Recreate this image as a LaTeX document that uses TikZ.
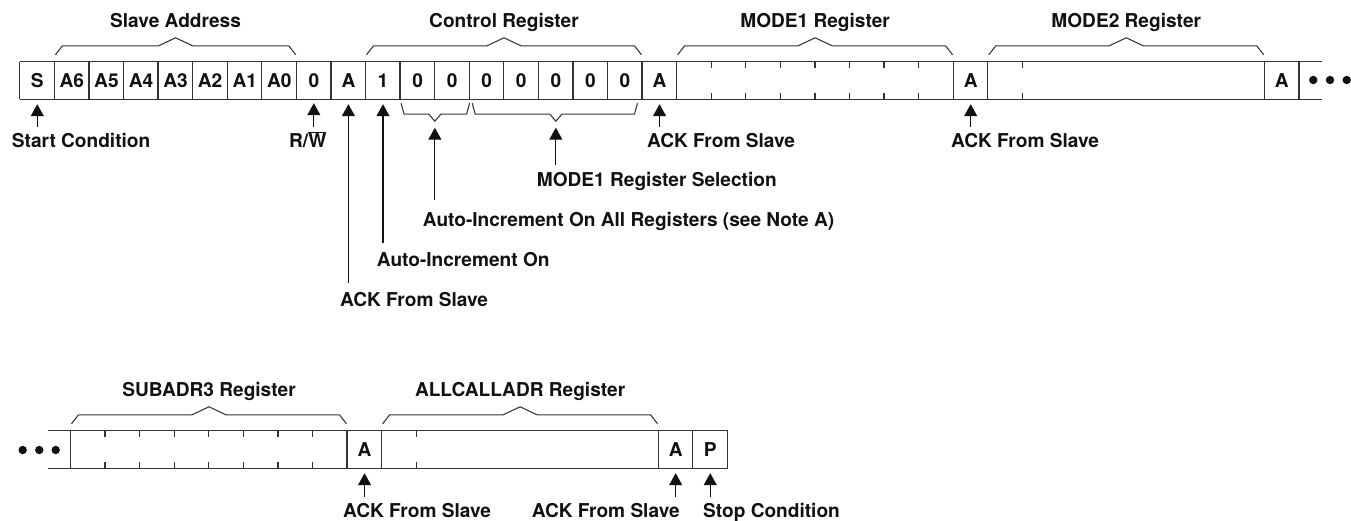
\documentclass[tikz,border=0pt]{standalone}
\usepackage{fontspec}
\setmainfont{TeX Gyre Heros}
\usetikzlibrary{calc,arrows.meta}
\definecolor{frameline}{HTML}{333333}
\definecolor{inkblack}{HTML}{111111}

% brace over / under a run of cells, #3 names the tip
\newcommand{\regbraceup}[3]{%
\draw[brace] let \p1=(#1.north west), \p2=(#2.north east), \p3=($(#1.north west)!.5!(#2.north east)$) in
 (\x1+1pt,\y1+7pt) -- (\x1+8pt,\y1+16pt) -- (\x3-17pt,\y1+16pt) -- (\x3,\y1+24pt) coordinate (#3)
 -- (\x3+17pt,\y1+16pt) -- (\x2-8pt,\y1+16pt) -- (\x2-1pt,\y1+7pt);}
\newcommand{\regbracedown}[5]{%
\draw[brace] let \p1=(#1.south west), \p2=(#2.south east), \p3=($(#1.south west)!.5!(#2.south east)$) in
 (\x1+#4,\y1-4pt) -- (\x1+#4+3pt,\y1-15pt) -- (\x3-6pt,\y1-15pt) -- (\x3,\y1-22pt) coordinate (#3)
 -- (\x3+6pt,\y1-15pt) -- (\x2-#5-3pt,\y1-15pt) -- (\x2-#5,\y1-4pt);}

\begin{document}
\begin{tikzpicture}[x=1pt,y=-1pt,
  every node/.style={font=\fontsize{19.1}{22}\selectfont\bfseries,text=inkblack},
  cell/.style={minimum width=34.57pt,minimum height=37pt,inner sep=0pt},
  frame/.style={draw=frameline,line width=1.25pt},
  brace/.style={draw=frameline,line width=1.05pt,line join=miter},
  title/.style={anchor=base,inner sep=0pt},
  lbl/.style={anchor=base west,inner sep=0pt,text height=13.5pt,text depth=4pt},
  ptr/.style={draw=inkblack,line width=1.1pt,-{Triangle[length=12pt,width=13pt]},shorten >=5pt,shorten <=7pt}]
\useasboundingbox (0,0) rectangle (1351,521);

% first row
\foreach \t [count=\i from 0] in {S,A6,A5,A4,A3,A2,A1,A0,0,A,1,0,0,0,0,0,0,0,A,{},{},{},{},{},{},{},{},A,{},{},{},{},{},{},{},{},A,{}}
  \node[cell] (t\i) at (37.285+34.57*\i,80.5) {\t};
\draw[frame] (t0.north west) -- ++(1301.7,0) (t0.south west) -- ++(1301.7,0);
\foreach \k in {0,...,19,27,28,36,37}
  \draw[frame] (t\k.north west) -- (t\k.south west);
\foreach \k in {20,...,26,29,...,35}
  \draw[frame] (t\k.north west) -- ++(0,6.5) (t\k.south west) -- ++(0,-6.5);
\foreach \x in {1313.3,1330,1346.7}
  \fill[inkblack] (\x,80) circle (4.2);

\regbraceup{t1}{t7}{pkSlave}
\regbraceup{t10}{t17}{pkCtrl}
\regbraceup{t19}{t26}{pkModeA}
\regbraceup{t28}{t35}{pkModeB}
\regbracedown{t11}{t12}{pkAll}{1pt}{0pt}
\regbracedown{t13}{t17}{pkSel}{3pt}{5pt}

\node[title] (nSlave) at ([yshift=10.5pt]pkSlave) {Slave Address};
\node[title] (nCtrl) at ([yshift=10.5pt]pkCtrl) {Control Register};
\node[title] (nModeA) at ([yshift=10.5pt]pkModeA) {MODE1 Register};
\node[title] (nModeB) at ([yshift=10.5pt]pkModeB) {MODE2 Register};

\node[lbl] (lStart) at (11.7,148) {Start Condition};
\node[lbl] (lRW) at (289,148) {R/$\overline{\mbox{W}}$};
\node[lbl] (lAckA) at (340,306.7) {ACK From Slave};
\node[lbl] (lAutoOn) at (376.7,266) {Auto-Increment On};
\node[lbl] (lAutoAll) at (422.7,227) {Auto-Increment On All Registers (see Note A)};
\node[lbl] (lSel) at (536.7,186.5) {MODE1 Register Selection};
\node[lbl] (lAckB) at (647,148) {ACK From Slave};
\node[lbl] (lAckC) at (951,148) {ACK From Slave};

\draw[ptr] (t0 |- lStart.north) -- (t0.south);
\draw[ptr,shorten >=4pt] (t8 |- lRW.north) -- (t8.south);
\draw[ptr,shorten <=10pt] (t9 |- lAckA.north) -- (t9.south);
\draw[ptr,shorten <=9.5pt] (t10 |- lAutoOn.north) -- (t10.south);
\draw[ptr,shorten <=13pt,shorten >=6.5pt] (pkAll |- lAutoAll.north) -- (pkAll);
\draw[ptr,shorten <=8pt,shorten >=6.5pt] (pkSel |- lSel.north) -- (pkSel);
\draw[ptr] (t18 |- lAckB.north) -- (t18.south);
\draw[ptr] (t27 |- lAckC.north) -- (t27.south);

% second row
\foreach \t [count=\i from 0] in {{},{},{},{},{},{},{},{},A,{},{},{},{},{},{},{},{},A,P}
  \node[cell] (b\i) at (87.985+34.57*\i,449.5) {\t};
\draw[frame] ([xshift=-22.4pt]b0.north west) -- (b18.north east)
  ([xshift=-22.4pt]b0.south west) -- (b18.south east);
\foreach \k in {0,8,9,17,18}
  \draw[frame] (b\k.north west) -- (b\k.south west);
\draw[frame] (b18.north east) -- (b18.south east);
\foreach \k in {1,...,7,10,...,16}
  \draw[frame] (b\k.north west) -- ++(0,6.5) (b\k.south west) -- ++(0,-6.5);
\foreach \x in {22.7,39.3,55.7}
  \fill[inkblack] (\x,450) circle (4.2);

\regbraceup{b0}{b7}{pkSub}
\regbraceup{b9}{b16}{pkAllc}
\node[title] (nSub) at ([yshift=10pt]pkSub) {SUBADR3 Register};
\node[title] (nAllc) at ([yshift=10pt]pkAllc) {ALLCALLADR Register};

\node[lbl] (lAckD) at (343,517.5) {ACK From Slave};
\node[lbl] (lAckE) at (531.7,517.5) {ACK From Slave};
\node[lbl] (lStop) at (703,517.5) {Stop Condition};

\draw[ptr] (b8 |- lAckD.north) -- (b8.south);
\draw[ptr] (b17 |- lAckE.north) -- (b17.south);
\draw[ptr] (b18 |- lStop.north) -- (b18.south);
\end{tikzpicture}
\end{document}
